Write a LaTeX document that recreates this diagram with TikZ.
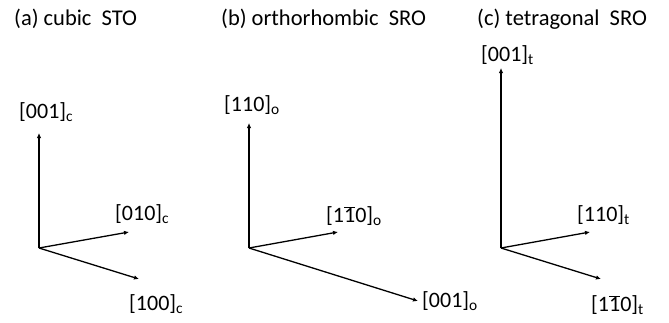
\documentclass[tikz,border=0pt]{standalone}
\usepackage{fontspec}
\setmainfont{Carlito}
\usetikzlibrary{arrows.meta}
\newcommand{\bone}{\(\overline{\mbox{1}}\)}
\tikzset{
  axis/.style={line width=1.3pt,-{Latex[length=5pt,width=4.5pt]}},
  title/.style={anchor=west,inner sep=0pt,font=\fontsize{22.5}{26}\selectfont},
  dirlabel/.style={anchor=west,inner sep=0pt,font=\fontsize{22}{25}\selectfont},
}
\begin{document}
\begin{tikzpicture}[x=1pt,y=-1pt]
\useasboundingbox (0,0) rectangle (669,322);
% titles
\node[title] (ta) at (14,19) {(a) cubic\ \ STO};
\node[title] (tb) at (221,19) {(b) orthorhombic\ \ SRO};
\node[title] (tc) at (477,19) {(c) tetragonal\ \ SRO};
% (a) cubic STO
\coordinate (oa) at (39,248);
\coordinate (a3) at (39,133);
\coordinate (a2) at (129,232);
\coordinate (a1) at (139,279);
\draw[axis] (oa) -- (a3);
\draw[axis] (oa) -- (a2);
\draw[axis] (oa) -- (a1);
\node[dirlabel] (la3) at (19,112) {[001]\textsubscript{c}};
\node[dirlabel] (la2) at (115,214) {[010]\textsubscript{c}};
\node[dirlabel] (la1) at (129,304) {[100]\textsubscript{c}};
% (b) orthorhombic SRO
\coordinate (ob) at (249,248);
\coordinate (b3) at (249,123);
\coordinate (b2) at (338,232);
\coordinate (b1) at (418,301);
\draw[axis] (ob) -- (b3);
\draw[axis] (ob) -- (b2);
\draw[axis] (ob) -- (b1);
\node[dirlabel] (lb3) at (224,105) {[110]\textsubscript{o}};
\node[dirlabel] (lb2) at (326,216) {[1\bone0]\textsubscript{o}};
\node[dirlabel] (lb1) at (422,301) {[001]\textsubscript{o}};
% (c) tetragonal SRO
\coordinate (oc) at (501,248);
\coordinate (c3) at (501,68);
\coordinate (c2) at (590,232);
\coordinate (c1) at (601,279);
\draw[axis] (oc) -- (c3);
\draw[axis] (oc) -- (c2);
\draw[axis] (oc) -- (c1);
\node[dirlabel] (lc3) at (481,55) {[001]\textsubscript{t}};
\node[dirlabel] (lc2) at (577,215) {[110]\textsubscript{t}};
\node[dirlabel] (lc1) at (591,305) {[1\bone0]\textsubscript{t}};
\end{tikzpicture}
\end{document}
